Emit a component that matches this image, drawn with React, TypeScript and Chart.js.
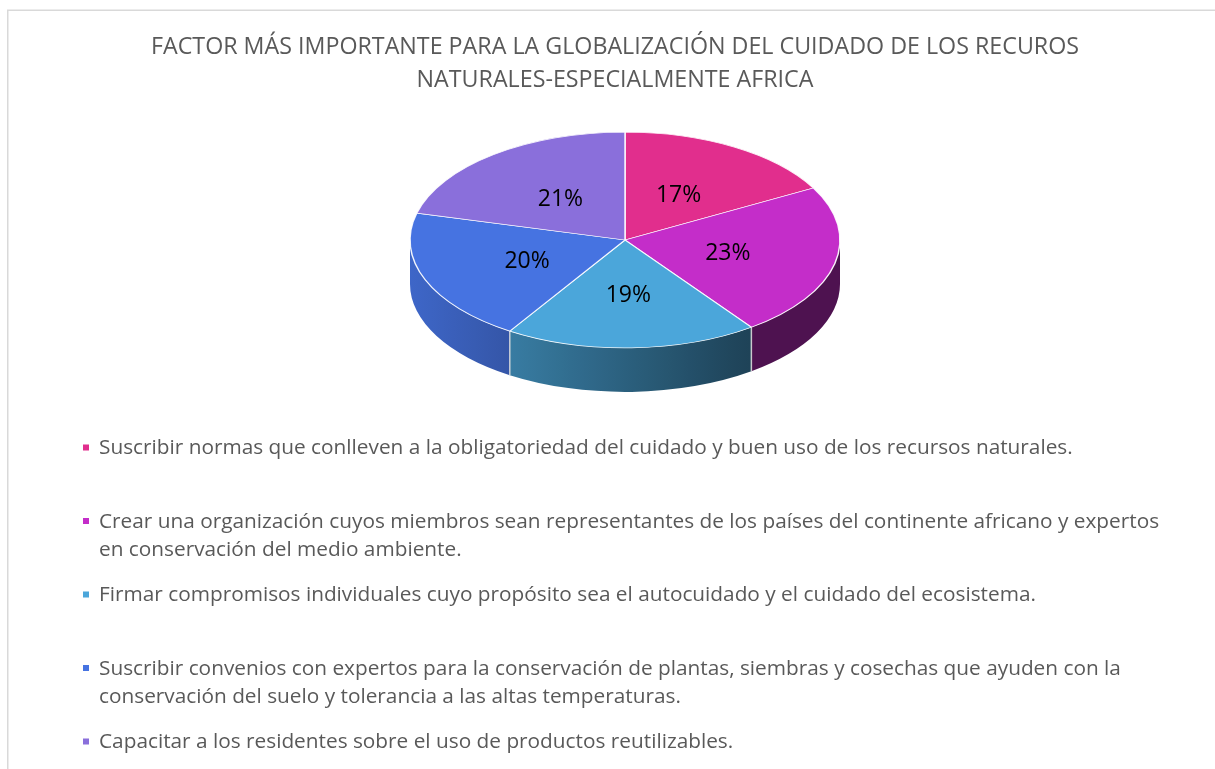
import { useEffect, useRef } from "react";
import { Chart, registerables } from "chart.js";

Chart.register(...registerables);

const titleLines = [
  "FACTOR MÁS IMPORTANTE PARA LA GLOBALIZACIÓN DEL CUIDADO DE LOS RECUROS",
  "NATURALES-ESPECIALMENTE AFRICA",
];

const legendLabels: string[][] = [
  ["Suscribir normas que conlleven a la obligatoriedad del cuidado y buen uso de los recursos naturales."],
  [
    "Crear una organización cuyos miembros sean representantes de los países del continente africano y expertos",
    "en conservación del medio ambiente.",
  ],
  ["Firmar compromisos individuales cuyo propósito sea el autocuidado y el cuidado del ecosistema."],
  [
    "Suscribir convenios con expertos para la conservación de plantas, siembras y cosechas que ayuden con la",
    "conservación del suelo y tolerancia a las altas temperaturas.",
  ],
  ["Capacitar a los residentes sobre el uso de productos reutilizables."],
];

const percentages = [17, 23, 19, 20, 21];

const sliceColors = ["#E12E8D", "#C42DC9", "#4BA6DA", "#4673E1", "#8A6FDB"];

const FONT = "'Open Sans', 'Noto Sans', sans-serif";
const TEXT_COLOR = "#595959";
const PIE_CY = 240;
const TILT = 0.502;
const DEPTH = 44;

function shade(hex: string, f: number): string {
  const n = parseInt(hex.slice(1), 16);
  const r = Math.round(((n >> 16) & 255) * f);
  const g = Math.round(((n >> 8) & 255) * f);
  const b = Math.round((n & 255) * f);
  return `rgb(${r},${g},${b})`;
}

function sideFactor(x: number): number {
  return Math.max(0.4, Math.min(0.92, 0.89 - (x - 410) * 0.00145));
}

const framePlugin = {
  id: "frame",
  beforeDraw(chart: any) {
    const ctx = chart.ctx;
    ctx.save();
    ctx.strokeStyle = "#d9d9d9";
    ctx.lineWidth = 1.5;
    ctx.strokeRect(7.75, 10.25, 1400, 900);
    ctx.fillStyle = TEXT_COLOR;
    ctx.font = `23.25px ${FONT}`;
    ctx.textAlign = "center";
    ctx.textBaseline = "alphabetic";
    titleLines.forEach((line, i) => {
      ctx.fillText(line, 615, 54 + i * 32.5);
    });
    ctx.restore();
  },
  afterDraw(chart: any) {
    const ctx = chart.ctx;
    const labels = chart.data.labels as string[][];
    const colors = chart.data.datasets[0].backgroundColor as string[];
    ctx.save();
    ctx.font = `20.8px ${FONT}`;
    ctx.textAlign = "left";
    ctx.textBaseline = "alphabetic";
    labels.forEach((lines, i) => {
      const base = 454 + i * 73.5;
      ctx.fillStyle = colors[i];
      ctx.fillRect(83, base - 9.5, 6, 6);
      ctx.fillStyle = TEXT_COLOR;
      lines.forEach((line, j) => {
        ctx.fillText(line, 99, base + j * 28.5);
      });
    });
    ctx.restore();
  },
};

const pie3dPlugin = {
  id: "pie3d",
  beforeDatasetsDraw(chart: any) {
    const ctx = chart.ctx;
    const meta = chart.getDatasetMeta(0);
    const arcs = meta.data;
    ctx.save();
    if (!arcs.length) return;
    const p0 = arcs[0].getProps(["x", "y", "outerRadius"], true);
    const cx = p0.x;
    const cy = p0.y;
    const r = p0.outerRadius;
    const ry = r * TILT;
    const colors = chart.data.datasets[0].backgroundColor as string[];

    // side walls (front half: canvas angles 0..PI)
    const edges: number[] = [];
    arcs.forEach((arc: any, i: number) => {
      const { startAngle, endAngle } = arc.getProps(["startAngle", "endAngle"], true);
      const a = Math.max(startAngle, 0);
      const b = Math.min(endAngle, Math.PI);
      if (startAngle > 0 && startAngle < Math.PI) edges.push(startAngle);
      if (b <= a) return;
      const grad = ctx.createLinearGradient(cx - r, 0, cx + r, 0);
      for (let k = 0; k <= 20; k++) {
        const t = k / 20;
        const x = cx - r + 2 * r * t;
        grad.addColorStop(t, shade(colors[i], sideFactor(x)));
      }
      ctx.beginPath();
      ctx.ellipse(cx, PIE_CY, r, ry, 0, a, b, false);
      ctx.lineTo(cx + r * Math.cos(b), PIE_CY + ry * Math.sin(b) + DEPTH);
      ctx.ellipse(cx, PIE_CY + DEPTH, r, ry, 0, b, a, true);
      ctx.closePath();
      ctx.fillStyle = grad;
      ctx.fill();
    });
    ctx.strokeStyle = "rgba(220,220,220,0.85)";
    ctx.lineWidth = 1.5;
    edges.forEach((t) => {
      const x = cx + r * Math.cos(t);
      const y = PIE_CY + ry * Math.sin(t);
      ctx.beginPath();
      ctx.moveTo(x, y);
      ctx.lineTo(x, y + DEPTH);
      ctx.stroke();
    });

    // squash the top face
    ctx.translate(cx, PIE_CY);
    ctx.scale(1, TILT);
    ctx.translate(-cx, -cy);
  },
  afterDatasetsDraw(chart: any) {
    const ctx = chart.ctx;
    ctx.restore();
    const meta = chart.getDatasetMeta(0);
    const values = chart.data.datasets[0].data as number[];
    const total = values.reduce((s, v) => s + v, 0);
    ctx.save();
    ctx.font = `23px ${FONT}`;
    ctx.fillStyle = "#000000";
    ctx.textAlign = "center";
    ctx.textBaseline = "middle";
    meta.data.forEach((arc: any, i: number) => {
      const { x, startAngle, endAngle, outerRadius } = arc.getProps(
        ["x", "startAngle", "endAngle", "outerRadius"],
        true
      );
      const mid = (startAngle + endAngle) / 2;
      const lx = x + 0.49 * outerRadius * Math.cos(mid);
      const ly = PIE_CY + 0.5 * outerRadius * TILT * Math.sin(mid);
      ctx.fillText(`${Math.round((values[i] / total) * 100)}%`, lx, ly + 2);
    });
    ctx.restore();
  },
};

export default function App() {
  const canvasRef = useRef<HTMLCanvasElement | null>(null);

  useEffect(() => {
    if (!canvasRef.current) return;
    const chart = new Chart(canvasRef.current, {
      type: "pie",
      data: {
        labels: legendLabels as any,
        datasets: [
          {
            data: percentages,
            backgroundColor: sliceColors,
            borderColor: "rgba(255,255,255,0.9)",
            borderWidth: 1.5,
            radius: 215,
          } as any,
        ],
      },
      options: {
        responsive: false,
        animation: false,
        events: [],
        layout: { padding: { left: 35, right: 0, top: 0, bottom: 0 } },
        plugins: {
          legend: { display: false },
          title: { display: false },
          tooltip: { enabled: false },
        },
      },
      plugins: [framePlugin, pie3dPlugin],
    });
    return () => chart.destroy();
  }, []);

  return (
    <div style={{ position: "absolute", left: 0, top: 0, width: 1215, height: 769, background: "#ffffff" }}>
      <canvas ref={canvasRef} width={1215} height={769} style={{ display: "block" }} />
    </div>
  );
}
